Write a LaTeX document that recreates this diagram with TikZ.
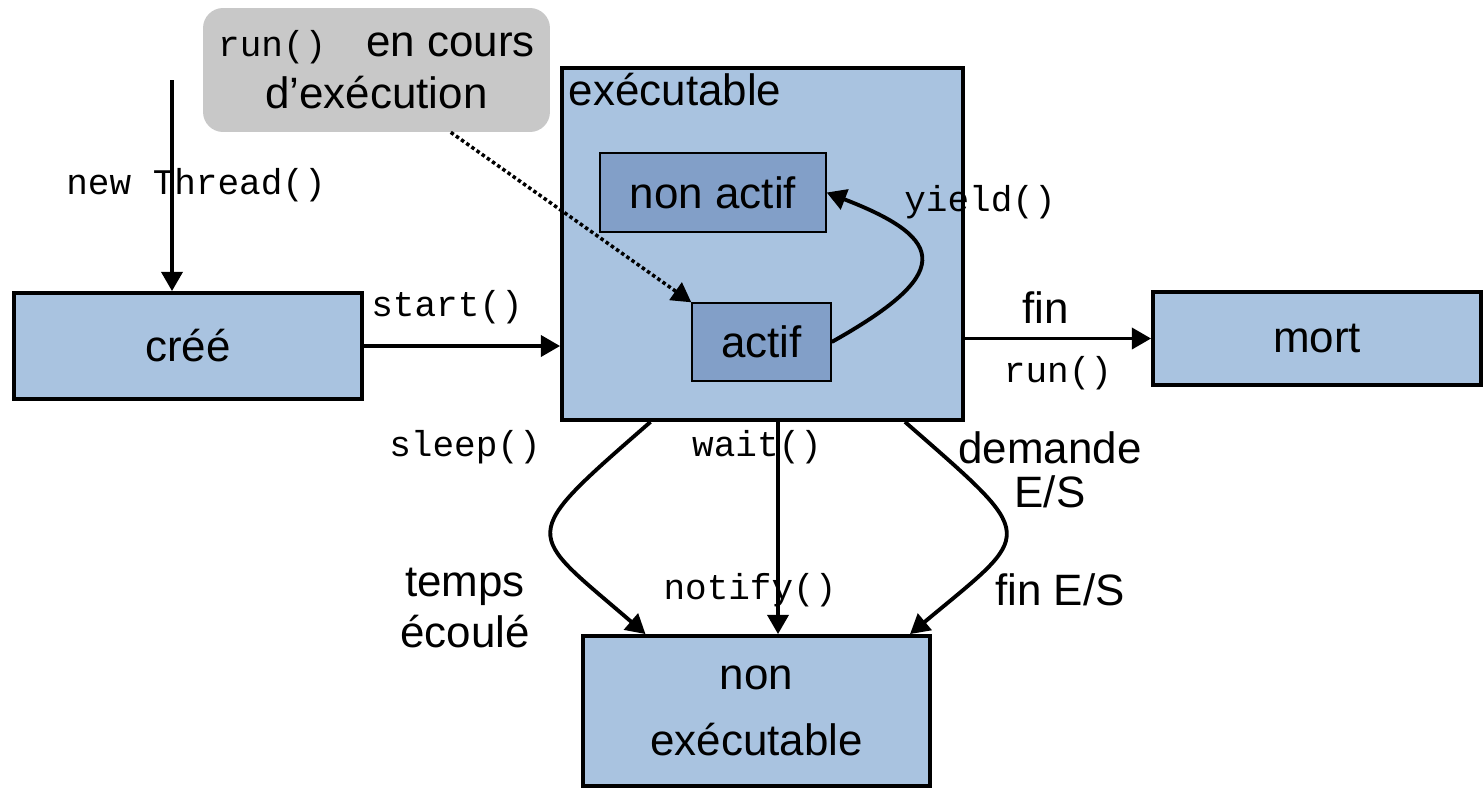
\documentclass[tikz,border=0pt]{standalone}
\usepackage{fontspec}
\setmainfont{Liberation Sans}
\setmonofont{Liberation Mono}
\usetikzlibrary{positioning,arrows.meta,calc}
\definecolor{etatbleu}{HTML}{A9C3E0}
\definecolor{actifbleu}{HTML}{829FC8}
\definecolor{bullegris}{HTML}{C8C8C8}
\tikzset{
  etat/.style={draw,fill=etatbleu,line width=2.2pt,inner sep=0pt,font=\fontsize{25}{38}\selectfont,align=center},
  sousetat/.style={draw,fill=actifbleu,line width=0.8pt,inner sep=0pt,font=\fontsize{25}{30}\selectfont},
  code/.style={font=\ttfamily\fontsize{20.5}{25}\selectfont},
  texte/.style={font=\fontsize{25}{28}\selectfont,align=center},
  trans/.style={-{Triangle[length=11pt,width=12pt]},line width=2.2pt},
}
\begin{document}
\begin{tikzpicture}[x=0.02cm,y=-0.02cm]
\useasboundingbox (0,0) rectangle (1483,788);
% etats
\node[etat,minimum width=6.96cm,minimum height=2.12cm] (cree) at (188,346) {créé};
\node[etat,minimum width=8.02cm,minimum height=7.04cm] (exec) at (762.5,244) {};
\node[texte,inner sep=2pt,below right=0.06cm and 0.1cm of exec.north west] (execlbl) {exécutable};
\node[sousetat,minimum width=4.52cm,minimum height=1.58cm] (nonactif) at (713,192.5) {non actif};
\node[sousetat,minimum width=2.78cm,minimum height=1.56cm] (actif) at (761.5,342) {actif};
\node[etat,minimum width=6.56cm,minimum height=1.86cm] (mort) at (1317,338.5) {mort};
\node[etat,minimum width=6.94cm,minimum height=3.0cm] (nonexec) at (756.5,711) {non\\exécutable};
\node[texte,fill=bullegris,rounded corners=0.4cm,minimum width=6.94cm,minimum height=2.48cm,font=\fontsize{25}{29.5}\selectfont] (bulle) at (376.5,70)
  {{\ttfamily\fontsize{20.5}{25}\selectfont run()}\hspace{0.8cm}en cours\\d’exécution};
% transitions
\coordinate (nouveau) at (172,80);
\node[code] (newlbl) at (196,185) {new Thread()};
\draw[trans] (nouveau) -- (nouveau |- cree.north);
\draw[trans] (cree.east) -- (cree.east -| exec.west) node[midway,above=8pt,xshift=-0.3cm,code] (startlbl) {start()};
\draw[trans] (exec.east |- mort.west) -- (mort.west)
  node[midway,above=4pt,xshift=-0.25cm,texte] (finlbl) {fin} node[midway,below=6pt,code] (runlbl) {run()};
\draw[-{Triangle[length=11pt,width=12pt]},line width=2pt,dash pattern=on 2pt off 1.6pt] (bulle.-40) -- (actif.north west);
\node[code] (yieldlbl) at (980,202) {yield()};
\draw[trans] (actif.east) .. controls (951,275) and (950,240) .. (nonactif.east);
% vers non executable
\node[code] (sleeplbl) at (465,447) {sleep()};
\node[code] (waitlbl) at (757,447) {wait()};
\node[code] (notifylbl) at (750,590) {notify()};
\node[texte,font=\fontsize{25}{28.5}\selectfont] (tempslbl) at (465,608) {temps\\écoulé};
\node[texte,font=\fontsize{25}{25}\selectfont] (demandelbl) at (1050,470) {demande\\E/S};
\node[texte] (finESlbl) at (1060,590) {fin E/S};
\draw[trans] ($(exec.south)+(-112,0)$) .. controls (515,540) and (525,530) .. ($(nonexec.north)+(-111,0)$);
\coordinate (attente) at ($(exec.south)+(15.5,0)$);
\draw[trans] (attente) -- (attente |- nonexec.north);
\draw[trans] ($(exec.south)+(142.5,0)$) .. controls (1040,540) and (1035,530) .. ($(nonexec.north)+(153.5,0)$);
\end{tikzpicture}
\end{document}
